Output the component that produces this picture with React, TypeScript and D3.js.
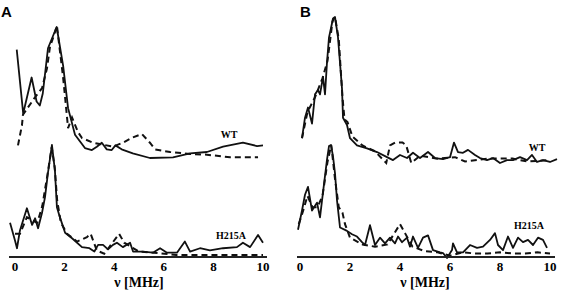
import React from 'react';
import * as d3 from 'd3';

const W = 561;
const H = 294;

type Pt = [number, number];

// frequency [MHz], relative intensity
const aWtSolid: Pt[] = [
  [0.07, 0.83], [0.33, 0.35], [0.67, 0.62], [0.87, 0.44], [1.0, 0.41], [1.12, 0.5],
  [1.33, 0.84], [1.68, 1.0], [1.94, 0.71], [2.14, 0.39], [2.42, 0.19], [2.82, 0.09],
  [3.1, 0.075], [3.3, 0.1], [3.5, 0.13], [3.7, 0.08], [3.9, 0.075], [4.05, 0.11],
  [4.3, 0.08], [4.75, 0.05], [5.44, 0.015], [6.37, 0.02], [7.06, 0.05], [7.74, 0.06],
  [8.39, 0.1], [9.19, 0.13], [9.76, 0.105], [10.0, 0.11],
];
const aWtDash: Pt[] = [
  [0.12, 0.11], [0.28, 0.26], [0.32, 0.34], [0.8, 0.47], [1.09, 0.54], [1.29, 0.69],
  [1.41, 0.85], [1.61, 0.96], [1.69, 1.01], [1.94, 0.62], [2.02, 0.47], [2.14, 0.24],
  [2.3, 0.32], [2.54, 0.21], [2.7, 0.165], [3.15, 0.13], [3.95, 0.1], [4.35, 0.13],
  [4.75, 0.17], [5.12, 0.195], [5.44, 0.13], [5.65, 0.08], [6.25, 0.06], [7.06, 0.045],
  [7.74, 0.04], [8.67, 0.02], [9.48, 0.02], [9.8, 0.02],
];
const aMutSolid: Pt[] = [
  [-0.2, 0.3], [0.0, 0.14], [0.08, 0.07], [0.2, 0.23], [0.48, 0.43], [0.69, 0.28],
  [0.81, 0.34], [0.93, 0.25], [1.09, 0.39], [1.21, 0.53], [1.33, 0.75], [1.49, 1.0],
  [1.61, 0.77], [1.69, 0.44], [1.81, 0.35], [2.02, 0.21], [2.3, 0.16], [2.7, 0.08],
  [3.0, 0.07], [3.2, 0.04], [3.35, 0.1], [3.55, 0.1], [3.75, 0.06], [3.95, 0.1],
  [4.11, 0.12], [4.35, 0.08], [4.64, 0.12], [4.76, 0.04], [5.16, 0.04], [5.56, 0.03],
  [5.85, 0.07], [6.13, 0.03], [6.53, 0.03], [6.85, 0.13], [7.06, 0.04], [7.46, 0.07],
  [7.86, 0.05], [8.39, 0.07], [8.95, 0.08], [9.19, 0.12], [9.48, 0.08], [9.8, 0.19],
  [10.0, 0.12],
];
const aMutDash: Pt[] = [
  [0.0, 0.2], [0.2, 0.2], [0.48, 0.35], [0.7, 0.32], [0.9, 0.3], [1.1, 0.45],
  [1.3, 0.72], [1.48, 0.98], [1.6, 0.8], [1.7, 0.5], [1.85, 0.3], [2.1, 0.2],
  [2.5, 0.13], [2.9, 0.17], [3.05, 0.2], [3.3, 0.05], [3.6, 0.02], [4.2, 0.2],
  [4.4, 0.12], [5.0, 0.04], [5.6, 0.03], [6.5, 0.01], [7.5, 0.01], [8.5, 0.01], [10, 0.01],
];

const bWtSolid: Pt[] = [
  [0.08, 0.17], [0.2, 0.31], [0.32, 0.38], [0.48, 0.27], [0.6, 0.47], [0.72, 0.5],
  [0.8, 0.47], [0.92, 0.59], [1.0, 0.47], [1.08, 0.69], [1.16, 0.86], [1.32, 0.99],
  [1.4, 1.0], [1.52, 0.86], [1.68, 0.51], [1.72, 0.31], [1.88, 0.26], [2.0, 0.17],
  [2.28, 0.12], [2.68, 0.1], [3.08, 0.075], [3.48, 0.04], [3.72, 0.02], [4.0, 0.055],
  [4.28, 0.034], [4.52, 0.07], [4.8, 0.034], [5.12, 0.075], [5.4, 0.034], [5.72, 0.027],
  [6.0, 0.04], [6.16, 0.14], [6.32, 0.075], [6.52, 0.07], [6.72, 0.09], [7.0, 0.055],
  [7.2, 0.034], [7.48, 0.02], [7.72, 0.034], [8.0, 0.0], [8.28, 0.02], [8.52, 0.02],
  [8.8, 0.04], [9.08, 0.02], [9.28, 0.055], [9.48, 0.007], [9.72, 0.02], [10.0, 0.007],
  [10.28, 0.027],
];
const bWtDash: Pt[] = [
  [0.08, 0.17], [0.3, 0.35], [0.6, 0.45], [0.9, 0.58], [1.1, 0.7], [1.3, 0.97],
  [1.4, 1.0], [1.55, 0.85], [1.7, 0.45], [1.78, 0.3], [1.9, 0.28], [2.1, 0.18],
  [2.5, 0.12], [3.0, 0.08], [3.45, 0.0], [3.6, 0.12], [3.8, 0.14], [4.1, 0.14],
  [4.25, 0.12], [4.45, 0.0], [4.8, 0.05], [5.5, 0.03], [6.2, 0.04], [6.6, 0.01],
  [7.5, 0.03], [8.5, 0.03], [9.1, 0.01], [10.0, 0.02],
];
const bMutSolid: Pt[] = [
  [-0.08, 0.25], [0.08, 0.42], [0.2, 0.56], [0.32, 0.63], [0.48, 0.42], [0.68, 0.49],
  [0.8, 0.36], [0.92, 0.58], [1.08, 0.87], [1.16, 0.99], [1.24, 1.0], [1.32, 0.9],
  [1.4, 0.75], [1.48, 0.51], [1.6, 0.27], [1.88, 0.24], [2.08, 0.21], [2.28, 0.19],
  [2.48, 0.14], [2.6, 0.115], [2.8, 0.29], [3.0, 0.115], [3.2, 0.18], [3.4, 0.13],
  [3.6, 0.18], [3.8, 0.13], [3.92, 0.19], [4.08, 0.14], [4.28, 0.18], [4.4, 0.1],
  [4.52, 0.19], [4.72, 0.09], [4.92, 0.18], [5.12, 0.2], [5.32, 0.07], [5.6, 0.05],
  [5.72, 0.044], [5.88, 0.0], [6.08, 0.07], [6.12, 0.13], [6.28, 0.05], [6.52, 0.05],
  [6.8, 0.115], [7.08, 0.09], [7.32, 0.1], [7.6, 0.16], [7.8, 0.22], [7.92, 0.115],
  [8.12, 0.07], [8.32, 0.19], [8.52, 0.09], [8.72, 0.18], [8.92, 0.14], [9.12, 0.16],
  [9.32, 0.115], [9.52, 0.18], [9.72, 0.16], [9.88, 0.09],
];
const bMutDash: Pt[] = [
  [-0.05, 0.3], [0.1, 0.4], [0.3, 0.55], [0.5, 0.45], [0.7, 0.45], [0.9, 0.55],
  [1.1, 0.85], [1.25, 1.0], [1.4, 0.7], [1.55, 0.45], [1.7, 0.4], [1.8, 0.3],
  [2.0, 0.18], [2.5, 0.12], [3.0, 0.1], [3.5, 0.12], [4.0, 0.3], [4.2, 0.22],
  [4.5, 0.1], [5.0, 0.06], [5.5, 0.05], [6.0, 0.02], [6.5, 0.05], [7.0, 0.04],
  [7.5, 0.04], [8.0, 0.05], [8.5, 0.04], [9.0, 0.04], [9.5, 0.05], [10, 0.04],
];

const ticks = [0, 2, 4, 6, 8, 10];
const serif = '"Liberation Serif", "DejaVu Serif", serif';

const panels = [
  {
    letter: 'A', x0: 15, x1: 263, axis: [9, 267], letterX: 1,
    traces: [
      { label: 'WT', solid: aWtSolid, dash: aWtDash, base: 160, top: 27, lx: 229, ly: 138 },
      { label: 'H215A', solid: aMutSolid, dash: aMutDash, base: 256, top: 145, lx: 231, ly: 239 },
    ],
  },
  {
    letter: 'B', x0: 300, x1: 550, axis: [297, 555], letterX: 300,
    traces: [
      { label: 'WT', solid: bWtSolid, dash: bWtDash, base: 163, top: 17, lx: 537, ly: 151 },
      { label: 'H215A', solid: bMutSolid, dash: bMutDash, base: 258, top: 145, lx: 529, ly: 229 },
    ],
  },
];

const axisY = 257;

function Panel({ p }: { p: (typeof panels)[number] }) {
  const x = d3.scaleLinear().domain([0, 10]).range([p.x0, p.x1]);
  return (
    <g>
      <text x={p.letterX} y={17} fontFamily="Arial, 'Liberation Sans', sans-serif" fontWeight="bold" fontSize={15}>
        {p.letter}
      </text>
      {p.traces.map((t) => {
        const y = d3.scaleLinear().domain([0, 1]).range([t.base, t.top]);
        const line = d3
          .line<Pt>()
          .x((d) => x(d[0]))
          .y((d) => y(d[1]));
        return (
          <g key={t.label}>
            <path d={line(t.dash) || ''} fill="none" stroke="#111" strokeWidth={2} strokeDasharray="6,4" />
            <path d={line(t.solid) || ''} fill="none" stroke="#111" strokeWidth={1.8} strokeLinejoin="round" />
            <text x={t.lx} y={t.ly} textAnchor="middle" fontFamily={serif} fontWeight="bold" fontSize={10}>
              {t.label}
            </text>
          </g>
        );
      })}
      <line x1={p.axis[0]} x2={p.axis[1]} y1={axisY} y2={axisY} stroke="#222" strokeWidth={2} />
      {ticks.map((v) => (
        <text key={v} x={x(v)} y={271} textAnchor="middle" fontFamily={serif} fontWeight="bold" fontSize={13}>
          {v}
        </text>
      ))}
      <text x={(p.x0 + p.x1) / 2} y={287} textAnchor="middle" fontFamily={serif} fontWeight="bold" fontSize={14}>
        ν [MHz]
      </text>
    </g>
  );
}

export default function App() {
  return (
    <svg width={W} height={H} style={{ position: 'absolute', left: 0, top: 0, background: '#fff' }}>
      {panels.map((p) => (
        <Panel key={p.letter} p={p} />
      ))}
    </svg>
  );
}
